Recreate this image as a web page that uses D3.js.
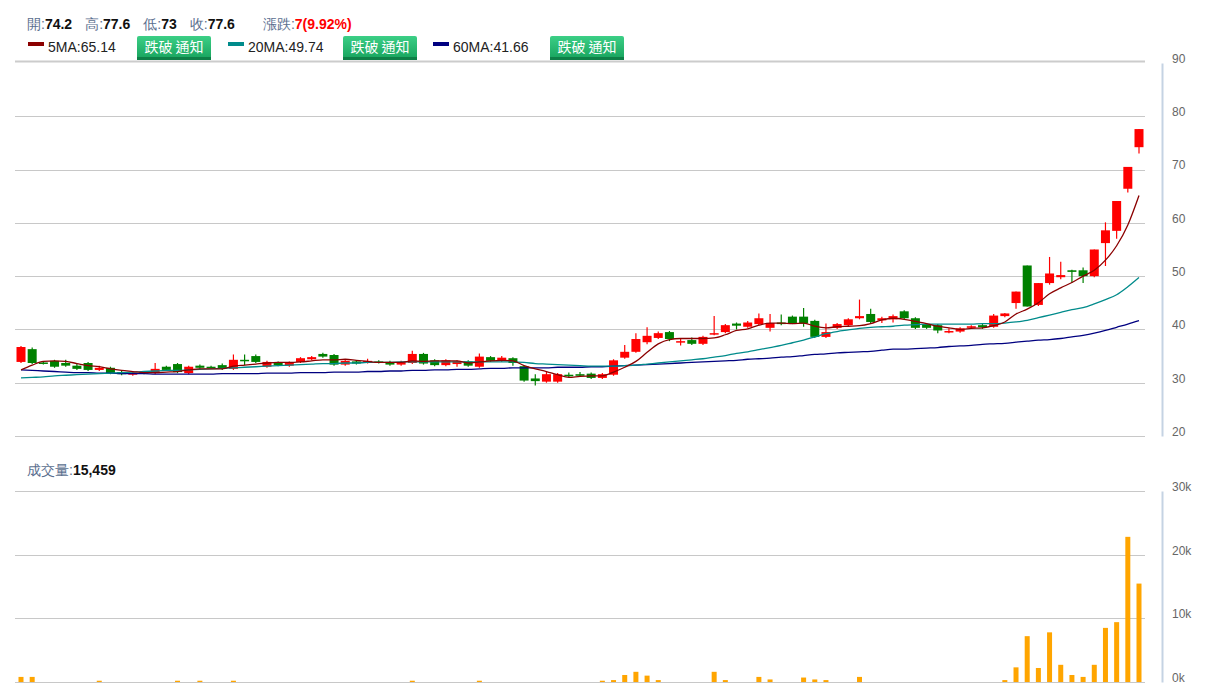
<!DOCTYPE html>
<html><head><meta charset="utf-8">
<script src="https://cdn.jsdelivr.net/npm/d3@7"></script>
<style>body{margin:0;background:#fff;font-family:Arial,"Liberation Sans",sans-serif}</style>
</head><body><svg id="c" width="1212" height="700"></svg>
<script>
const opens=[33.9,36.3,33.8,34.1,33.7,33.2,33.7,32.4,32.8,32.0,31.5,32.0,31.8,33.0,33.5,31.8,33.2,33.0,33.3,32.6,34.3,35.0,33.0,33.8,33.2,33.9,34.4,35.4,35.2,33.4,34.0,33.9,34.0,33.9,33.4,33.7,35.4,34.2,33.3,33.5,34.0,33.0,34.8,34.1,34.6,33.1,30.8,30.2,30.2,31.5,31.6,31.7,30.9,31.5,34.7,35.8,37.6,38.4,39.5,37.8,38.0,37.3,39.1,39.5,41.1,40.5,41.0,40.3,41.3,42.4,42.4,41.6,38.6,40.3,40.8,42.1,42.9,41.7,41.9,43.4,42.1,41.0,40.8,39.7,39.6,40.3,40.8,40.5,42.5,44.95,52.0,44.6,48.7,49.8,51.1,51.1,50.0,56.2,58.5,66.4,74.2];
const highs=[36.9,36.6,34.0,34.3,34.3,33.5,33.9,33.2,33.0,32.2,32.1,32.2,33.7,33.2,33.7,33.2,33.4,33.2,33.6,35.3,35.3,35.3,34.1,34.0,34.0,34.8,35.0,35.6,35.4,34.3,34.2,34.5,34.2,34.1,34.1,36.0,35.6,34.4,34.4,34.2,34.2,35.5,35.0,35.0,34.8,33.2,31.6,32.2,31.8,31.9,32.0,31.9,31.8,34.4,37.1,39.3,40.4,39.6,39.7,38.2,38.5,38.8,42.5,41.0,41.3,41.6,43.0,42.9,42.8,42.6,44.0,41.8,41.1,41.2,42.1,45.6,43.9,42.4,42.8,43.6,42.3,41.2,41.0,40.2,40.4,40.8,41.0,42.9,43.1,47.1,52.0,48.7,53.6,52.7,51.2,51.6,55.0,60.1,64.1,70.5,77.6];
const lows=[33.7,33.5,33.4,32.8,33.0,32.4,32.2,32.2,31.6,31.4,31.3,31.6,31.6,32.2,31.8,31.6,32.6,32.7,32.4,32.4,33.3,33.7,32.8,33.1,33.0,33.7,34.2,34.7,33.2,33.2,33.4,33.6,33.6,33.2,33.2,33.5,33.4,33.1,33.1,33.0,33.0,32.8,33.9,33.9,33.2,30.2,29.5,30.0,30.0,31.0,31.1,30.7,30.7,31.3,34.5,35.6,37.2,38.2,37.8,37.0,37.1,37.1,38.9,39.3,40.0,40.3,40.8,39.6,40.8,41.0,40.5,38.4,38.4,40.1,40.6,41.9,41.2,41.2,41.3,41.9,40.1,40.1,39.3,39.3,39.4,40.1,40.1,40.3,42.3,43.9,44.3,44.4,48.4,49.4,48.7,48.7,49.8,51.9,57.0,65.7,73.0];
const closes=[36.7,33.7,33.7,33.0,33.2,32.6,32.4,32.8,31.8,31.6,31.9,31.8,32.6,32.4,32.0,33.0,32.8,32.8,32.6,34.3,34.2,33.9,33.9,33.3,33.8,34.6,34.8,34.9,33.4,34.1,33.6,34.1,33.8,33.4,33.9,35.4,33.6,33.3,34.2,34.0,33.2,34.9,34.1,34.7,33.7,30.4,30.3,31.6,31.6,31.2,31.3,30.9,31.6,34.2,35.8,38.2,38.8,39.3,38.2,37.8,37.3,38.6,39.3,40.8,40.7,41.3,42.1,41.2,41.0,41.2,41.1,38.6,39.5,41.0,41.9,42.5,41.4,42.1,42.5,42.1,40.3,40.3,39.8,39.7,40.2,40.6,40.4,42.6,43.0,47.1,44.3,48.7,50.5,50.2,50.8,50.0,55.0,58.6,64.1,70.5,77.6];
const ma5=[32.4,33.3,34.0,34.1,34.0,33.6,33.2,33.0,32.6,32.3,32.1,31.9,31.9,32.0,32.1,32.4,32.6,32.6,32.6,33.1,33.3,33.5,33.7,33.8,33.8,33.9,34.1,34.3,34.3,34.4,34.2,34.0,33.8,33.8,33.8,34.1,34.0,34.1,34.1,34.1,33.7,33.9,34.1,34.2,34.1,33.2,32.6,32.1,31.5,31.0,31.2,31.3,31.3,32.0,32.9,34.0,35.7,37.3,38.1,38.3,38.3,38.3,38.4,39.0,39.8,40.1,40.8,41.2,41.2,41.1,41.2,40.6,40.3,40.5,40.6,40.7,41.1,41.8,42.1,41.9,41.5,41.1,40.6,40.3,40.0,40.2,40.3,40.7,41.4,42.9,43.8,45.0,46.7,47.8,48.8,50.0,51.1,53.0,55.7,59.6,65.14];
const ma20=[30.9,31.0,31.1,31.3,31.4,31.5,31.6,31.7,31.8,31.9,32.0,32.1,32.2,32.3,32.3,32.4,32.5,32.6,32.7,32.8,32.9,33.0,33.1,33.2,33.3,33.4,33.5,33.6,33.6,33.7,33.7,33.8,33.8,33.8,33.9,33.9,33.9,33.9,33.9,33.9,33.9,33.9,33.9,33.9,33.9,33.8,33.6,33.5,33.4,33.3,33.2,33.1,33.1,33.1,33.2,33.3,33.5,33.7,33.9,34.1,34.3,34.5,34.8,35.1,35.5,35.8,36.2,36.6,37.0,37.5,38.0,38.6,39.2,39.6,39.9,40.2,40.4,40.5,40.6,40.8,40.9,41.0,41.0,41.0,41.0,41.0,41.1,41.1,41.2,41.4,41.7,42.2,42.7,43.2,43.7,44.1,44.8,45.6,46.5,48.0,49.74];
const ma60=[32.4,32.3,32.2,32.1,32.0,31.9,31.9,31.8,31.8,31.7,31.7,31.7,31.6,31.6,31.6,31.6,31.6,31.6,31.7,31.7,31.7,31.7,31.8,31.8,31.8,31.9,31.9,31.9,32.0,32.0,32.0,32.1,32.1,32.2,32.2,32.3,32.3,32.4,32.4,32.5,32.5,32.6,32.7,32.7,32.8,32.8,32.8,32.8,32.9,32.9,32.9,33.0,33.0,33.1,33.2,33.3,33.4,33.5,33.6,33.7,33.8,33.9,34.0,34.1,34.2,34.4,34.5,34.6,34.8,34.9,35.1,35.3,35.4,35.6,35.7,35.8,35.9,36.1,36.3,36.3,36.4,36.5,36.6,36.8,36.9,37.0,37.2,37.3,37.4,37.6,37.8,38.0,38.1,38.3,38.6,38.9,39.3,39.8,40.4,41.0,41.66];
const volume=[0.8,0.8,0,0,0,0,0,0.2,0,0,0,0,0,0,0.2,0,0.2,0,0,0.2,0,0,0,0,0,0,0,0,0,0,0,0,0,0,0,0.2,0,0,0,0,0,0.2,0,0,0,0,0,0,0,0,0,0,0.2,0.3,1.1,1.6,1.0,0.3,0,0,0,0,1.6,0.3,0,0,0.8,0.4,0,0,0.7,0.4,0.3,0,0,0.8,0,0,0,0,0,0,0,0,0,0,0,0,0.3,2.3,7.2,2.2,7.8,2.7,1.1,0.8,2.7,8.5,9.4,22.8,15.459];
const priceTicks=[20,30,40,50,60,70,80,90];
const volTicks=[0,10,20,30];

const svg=d3.select("#c");
const n=closes.length;
const x=d3.scaleLinear().domain([0,n-1]).range([21,1139]);
const y=d3.scaleLinear().domain([20,90]).range([436,63]);
const yv=d3.scaleLinear().domain([0,30]).range([682,491]);

svg.append("line").attr("x1",15).attr("x2",1145).attr("y1",61.5).attr("y2",61.5).attr("stroke","#ccc").attr("stroke-width",2);
priceTicks.forEach(t=>{
 if(t<90) svg.append("line").attr("x1",15).attr("x2",1145).attr("y1",Math.round(y(t))+.5).attr("y2",Math.round(y(t))+.5).attr("stroke","#c8c8c8");
});
volTicks.forEach(t=>svg.append("line").attr("x1",15).attr("x2",1145).attr("y1",Math.round(yv(t))+.5).attr("y2",Math.round(yv(t))+.5).attr("stroke","#c8c8c8"));

const ya=svg.append("g").attr("transform","translate(1162,0)").call(d3.axisRight(y).tickValues(priceTicks).tickSize(0).tickPadding(10));
const yva=svg.append("g").attr("transform","translate(1162,0)").call(d3.axisRight(yv).tickValues(volTicks).tickSize(0).tickPadding(10).tickFormat(d=>d+"k"));
[ya,yva].forEach(g=>{g.select(".domain").attr("stroke","#c5d3e3").attr("stroke-width",2);g.selectAll("text").attr("fill","#666").attr("font-size",12).attr("font-family","Arial").attr("dy","-0.05em");});

const idx=d3.range(n);
const col=i=>closes[i]>=opens[i]?"#ff0000":"#008000";
svg.append("g").selectAll("line").data(idx).join("line")
 .attr("x1",i=>x(i)).attr("x2",i=>x(i)).attr("y1",i=>y(highs[i])).attr("y2",i=>y(lows[i])).attr("stroke",col).attr("stroke-width",1.2);
svg.append("g").selectAll("rect").data(idx).join("rect")
 .attr("x",i=>x(i)-4.5).attr("width",9)
 .attr("y",i=>y(Math.max(opens[i],closes[i])))
 .attr("height",i=>Math.max(1.5,Math.abs(y(opens[i])-y(closes[i])))).attr("fill",col);

const line=arr=>d3.line().x((d,i)=>x(i)).y(d=>y(d)).curve(d3.curveMonotoneX)(arr);
svg.append("path").attr("d",line(ma60)).attr("fill","none").attr("stroke","#000080").attr("stroke-width",1.3);
svg.append("path").attr("d",line(ma20)).attr("fill","none").attr("stroke","#008b8b").attr("stroke-width",1.3);
svg.append("path").attr("d",line(ma5)).attr("fill","none").attr("stroke","#8b0000").attr("stroke-width",1.3);

svg.append("g").selectAll("rect").data(idx.filter(i=>volume[i]>0)).join("rect")
 .attr("x",i=>x(i)-2.5).attr("width",5).attr("y",i=>yv(volume[i])).attr("height",i=>yv(0)-yv(volume[i])).attr("fill","#ffa500");

const hdr=svg.append("text").attr("x",27).attr("y",29).attr("font-size",14);
[["開:",74.2],["高:",77.6],["低:",73],["收:",77.6]].forEach(([l,v],k)=>{
 hdr.append("tspan").attr("fill","#5b6f8f").attr("dx",k?13:0).text(l);
 hdr.append("tspan").attr("font-weight","bold").attr("fill","#111").text(v);
});
hdr.append("tspan").attr("fill","#5b6f8f").attr("dx",28).text("漲跌:");
hdr.append("tspan").attr("font-weight","bold").attr("fill","#ff0000").text("7(9.92%)");

const defs=svg.append("defs");
const gr=defs.append("linearGradient").attr("id","bg").attr("x1",0).attr("x2",0).attr("y1",0).attr("y2",1);
gr.append("stop").attr("offset","0%").attr("stop-color","#3ccf86");
gr.append("stop").attr("offset","100%").attr("stop-color","#16a25c");
const legend=[["5MA:65.14","#8b0000",28,137],["20MA:49.74","#008b8b",228,343],["60MA:41.66","#000080",433,550]];
legend.forEach(([t,c,lx,bx])=>{
 svg.append("rect").attr("x",lx).attr("y",42).attr("width",16).attr("height",4).attr("fill",c);
 svg.append("text").attr("x",lx+20).attr("y",52).attr("font-size",14).attr("fill","#222").text(t);
 svg.append("rect").attr("x",bx).attr("y",36).attr("width",74).attr("height",24).attr("rx",2).attr("fill","url(#bg)");
 svg.append("rect").attr("x",bx).attr("y",57).attr("width",74).attr("height",3).attr("fill","#0e7f47");
 svg.append("text").attr("x",bx+37).attr("y",52).attr("text-anchor","middle").attr("font-size",14).attr("fill","#fff").attr("font-family","Noto Sans CJK TC").text("跌破 通知");
});
const vt=svg.append("text").attr("x",27).attr("y",475).attr("font-size",14);
vt.append("tspan").attr("fill","#5b6f8f").text("成交量:");
vt.append("tspan").attr("font-weight","bold").attr("fill","#111").text("15,459");
</script></body></html>
